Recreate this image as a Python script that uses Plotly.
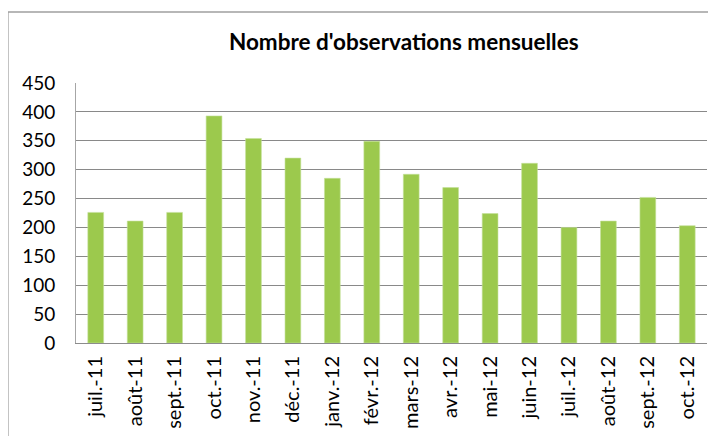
import plotly.graph_objects as go

months = ["juil.-11", "août-11", "sept.-11", "oct.-11", "nov.-11", "déc.-11",
          "janv.-12", "févr.-12", "mars-12", "avr.-12", "mai-12", "juin-12",
          "juil.-12", "août-12", "sept.-12", "oct.-12"]
observations = [226, 211, 226, 393, 354, 320, 285, 349, 292, 269, 224, 311,
                200, 211, 252, 203]
y_ticks = [0, 50, 100, 150, 200, 250, 300, 350, 400, 450]

fig = go.Figure()
fig.add_trace(go.Bar(
    x=months, y=observations,
    marker=dict(color="#9CC94D", line=dict(color="#C4E09A", width=0.6)),
))

# page body has an 8px margin, so the figure is drawn 8px smaller
fig.update_layout(
    width=708, height=428,
    margin=dict(l=68, r=9, t=75, b=93, autoexpand=False),
    paper_bgcolor="white", plot_bgcolor="white",
    showlegend=False,
    bargap=0.6,
    font=dict(family="Lato, Calibri, sans-serif", color="#000000"),
    title=dict(text="<b>Nombre d'observations mensuelles</b>",
               x=0.559, xanchor="center", y=0.921, yanchor="middle",
               font=dict(size=22.5, family="Lato, sans-serif", color="#000")),
    xaxis=dict(
        type="category", tickangle=-90, tickfont=dict(size=20),
        showline=True, linecolor="#8C8C8C", linewidth=1,
        showgrid=False, ticks="", ticklen=0, automargin=False,
        ticklabelstandoff=4,
    ),
    yaxis=dict(
        range=[0, 450], tickvals=y_ticks, tickfont=dict(size=19),
        showgrid=True, gridcolor="#898989", gridwidth=1,
        showline=True, linecolor="#A6A6A6", linewidth=1,
        zeroline=False, ticks="", ticklen=0, automargin=False,
        ticklabelstandoff=16,
    ),
    shapes=[dict(type="rect", xref="paper", yref="paper",
                 x0=-0.1078, x1=1.2, y0=-0.5, y1=1.273,
                 line=dict(color="#A0A0A0", width=1.3), layer="below")],
)

fig.write_html("out.html")
